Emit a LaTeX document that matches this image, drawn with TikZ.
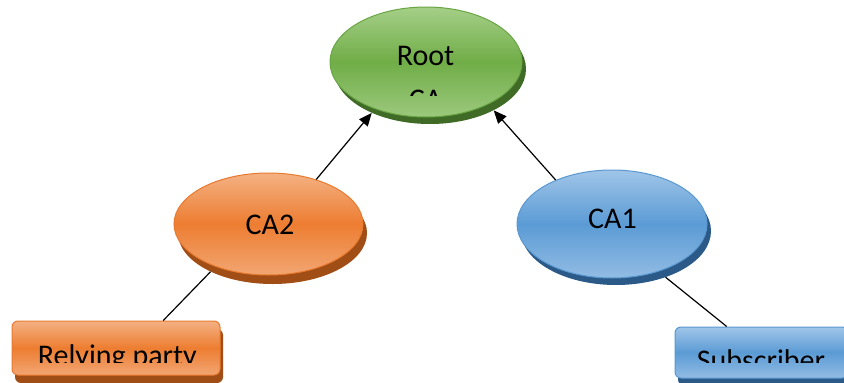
\documentclass[tikz,border=0pt]{standalone}
\usepackage{fontspec}
\setmainfont{Carlito}
\usetikzlibrary{shapes.geometric,arrows.meta,calc}
\definecolor{gTop}{HTML}{A5CF88}
\definecolor{gMid}{HTML}{70AD47}
\definecolor{gBot}{HTML}{9CC97D}
\definecolor{gLine}{HTML}{6AA544}
\definecolor{gSh}{HTML}{3F6B27}
\definecolor{oTop}{HTML}{F4B183}
\definecolor{oMid}{HTML}{ED7D31}
\definecolor{oBot}{HTML}{F2A673}
\definecolor{oLine}{HTML}{E87A30}
\definecolor{oSh}{HTML}{A04E16}
\definecolor{bTop}{HTML}{A0C5E8}
\definecolor{bMid}{HTML}{5B9BD5}
\definecolor{bBot}{HTML}{92BCE4}
\definecolor{bLine}{HTML}{5A98D0}
\definecolor{bSh}{HTML}{2B5A88}
\begin{document}
\begin{tikzpicture}[x=1pt,y=-1pt,
  lbl/.style={font=\fontsize{30}{35}\selectfont, inner sep=0pt, anchor=base, text=black},
  oval/.style={ellipse, inner sep=0pt},
  boxr/.style={rectangle, rounded corners=6pt, inner sep=0pt},
  greenfill/.style={top color=gTop, bottom color=gBot, middle color=gMid, draw=gLine, line width=1pt},
  orangefill/.style={top color=oTop, bottom color=oBot, middle color=oMid, draw=oLine, line width=1pt},
  bluefill/.style={top color=bTop, bottom color=bBot, middle color=bMid, draw=bLine, line width=1pt},
  link/.style={draw=black, line width=1.2pt},
  arr/.style={link, -{Triangle[length=13pt,width=11pt]}}
]
\useasboundingbox (0,0) rectangle (844,383);
\clip (0,0) rectangle (844,383);
\fill[white] (0,0) rectangle (844,383);

% shadows
\node[oval, fill=gSh, minimum width=192pt, minimum height=110pt] (rootsh) at (430,69) {};
\node[oval, fill=oSh, minimum width=189pt, minimum height=102pt] (ca2sh) at (272.5,233) {};
\node[oval, fill=bSh, minimum width=190pt, minimum height=108pt] (ca1sh) at (616,231) {};
\node[boxr, fill=oSh, minimum width=208pt, minimum height=54pt] (rpsh) at (119,356) {};
\node[boxr, fill=bSh, minimum width=173pt, minimum height=51pt] (subsh) at (764.5,360) {};

% main shapes
\node[oval, greenfill, minimum width=192pt, minimum height=110pt] (root) at (426,62) {};
\node[oval, orangefill, minimum width=189pt, minimum height=102pt] (ca2) at (268.5,224) {};
\node[oval, bluefill, minimum width=190pt, minimum height=108pt] (ca1) at (612,224) {};
\node[boxr, orangefill, minimum width=208pt, minimum height=54pt] (rp) at (116,348) {};
\node[boxr, bluefill, minimum width=173pt, minimum height=51pt] (sub) at (761.5,352.5) {};

% connectors
\draw[arr] (ca2.43) -- (rootsh.-143);
\draw[arr] (ca1.142) -- (rootsh.-33);
\draw[link] (ca2sh.-148) -- ($(rp.north west)!0.726!(rp.north east)$);
\draw[link] (ca1sh.-43) -- ($(sub.north west)!0.30!(sub.north east)$);

% texts
\node[lbl] (troot) at (425.5,65.6) {Root};
\begin{scope}
  \clip (330,0) rectangle (522,95);
  \node[lbl] (tca) at (425.5,109) {CA};
\end{scope}
\node[lbl] (tca2) at (270,234) {CA2};
\node[lbl] (tca1) at (612.5,228.3) {CA1};
\begin{scope}
  \clip (12,321) rectangle (220,362);
  \node[lbl] (trp) at (117.3,365.8) {Relying party};
\end{scope}
\begin{scope}
  \clip (675,327) rectangle (844,362.3);
  \node[lbl] (tsub) at (761,370) {Subscriber};
\end{scope}
\end{tikzpicture}
\end{document}
